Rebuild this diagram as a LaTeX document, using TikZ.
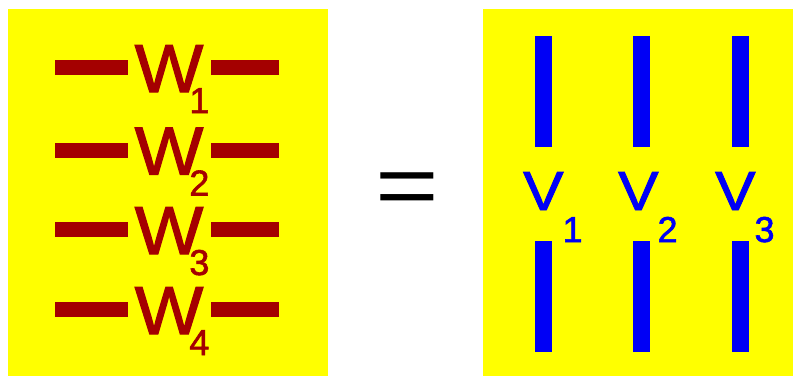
\documentclass[tikz,border=0pt]{standalone}
\usepackage{fontspec}
\setmainfont{Liberation Sans}
\newfontfamily\lblfont{Liberation Sans}[FakeBold=1.6]
\usetikzlibrary{positioning}
\definecolor{wred} {HTML}{A40000}
\definecolor{vblue}{HTML}{0000F5}
\definecolor{pad}  {HTML}{FFFF00}
\tikzset{
  % --- panels
  panel/.style = {fill=pad},
  % --- bars
  wbar/.style  = {draw=wred, line width=15pt},
  vbar/.style  = {draw=vblue, line width=17pt},
  % --- labels
  wlbl/.style  = {anchor=base west, inner sep=0pt, text=wred, font=\lblfont},
  vlbl/.style  = {anchor=base west, inner sep=0pt, text=vblue, font=\lblfont},
}
\newcommand{\wsym}[1]{\scalebox{1.07}[1]{\fontsize{68}{68}\selectfont W}\kern-14pt\raisebox{-21pt}{\fontsize{36}{36}\selectfont #1}}
\newcommand{\vsym}[1]{\scalebox{1.1}[1]{\fontsize{55}{55}\selectfont V}\kern-1pt\raisebox{-32pt}{\fontsize{36}{36}\selectfont #1}}

\begin{document}
\begin{tikzpicture}[x=1pt,y=-1pt]
  \useasboundingbox (0,0) rectangle (793,376);
  \fill[panel] (8,9) rectangle (328,376);
  \fill[panel] (483,9) rectangle (793,376);

  \foreach \i/\c in {1/67.5,2/150,3/229.5,4/309.5} {
    \draw[wbar] (55,\c) -- (128,\c);
    \draw[wbar] (211,\c) -- (279,\c);
    \node[wlbl] (w\i) at (134.5,\c+24.5) {\wsym{\i}};
  }

  \node[inner sep=0pt] (eq) at (407.5,194) {\scalebox{1}[0.8]{\fontsize{109}{109}\selectfont =}};

  \foreach \i/\x/\l in {1/543.5/523,2/641.5/618,3/740/715} {
    \draw[vbar] (\x,36) -- (\x,147);
    \draw[vbar] (\x,241) -- (\x,352);
    \node[vlbl] (v\i) at (\l,210) {\vsym{\i}};
  }
\end{tikzpicture}
\end{document}
